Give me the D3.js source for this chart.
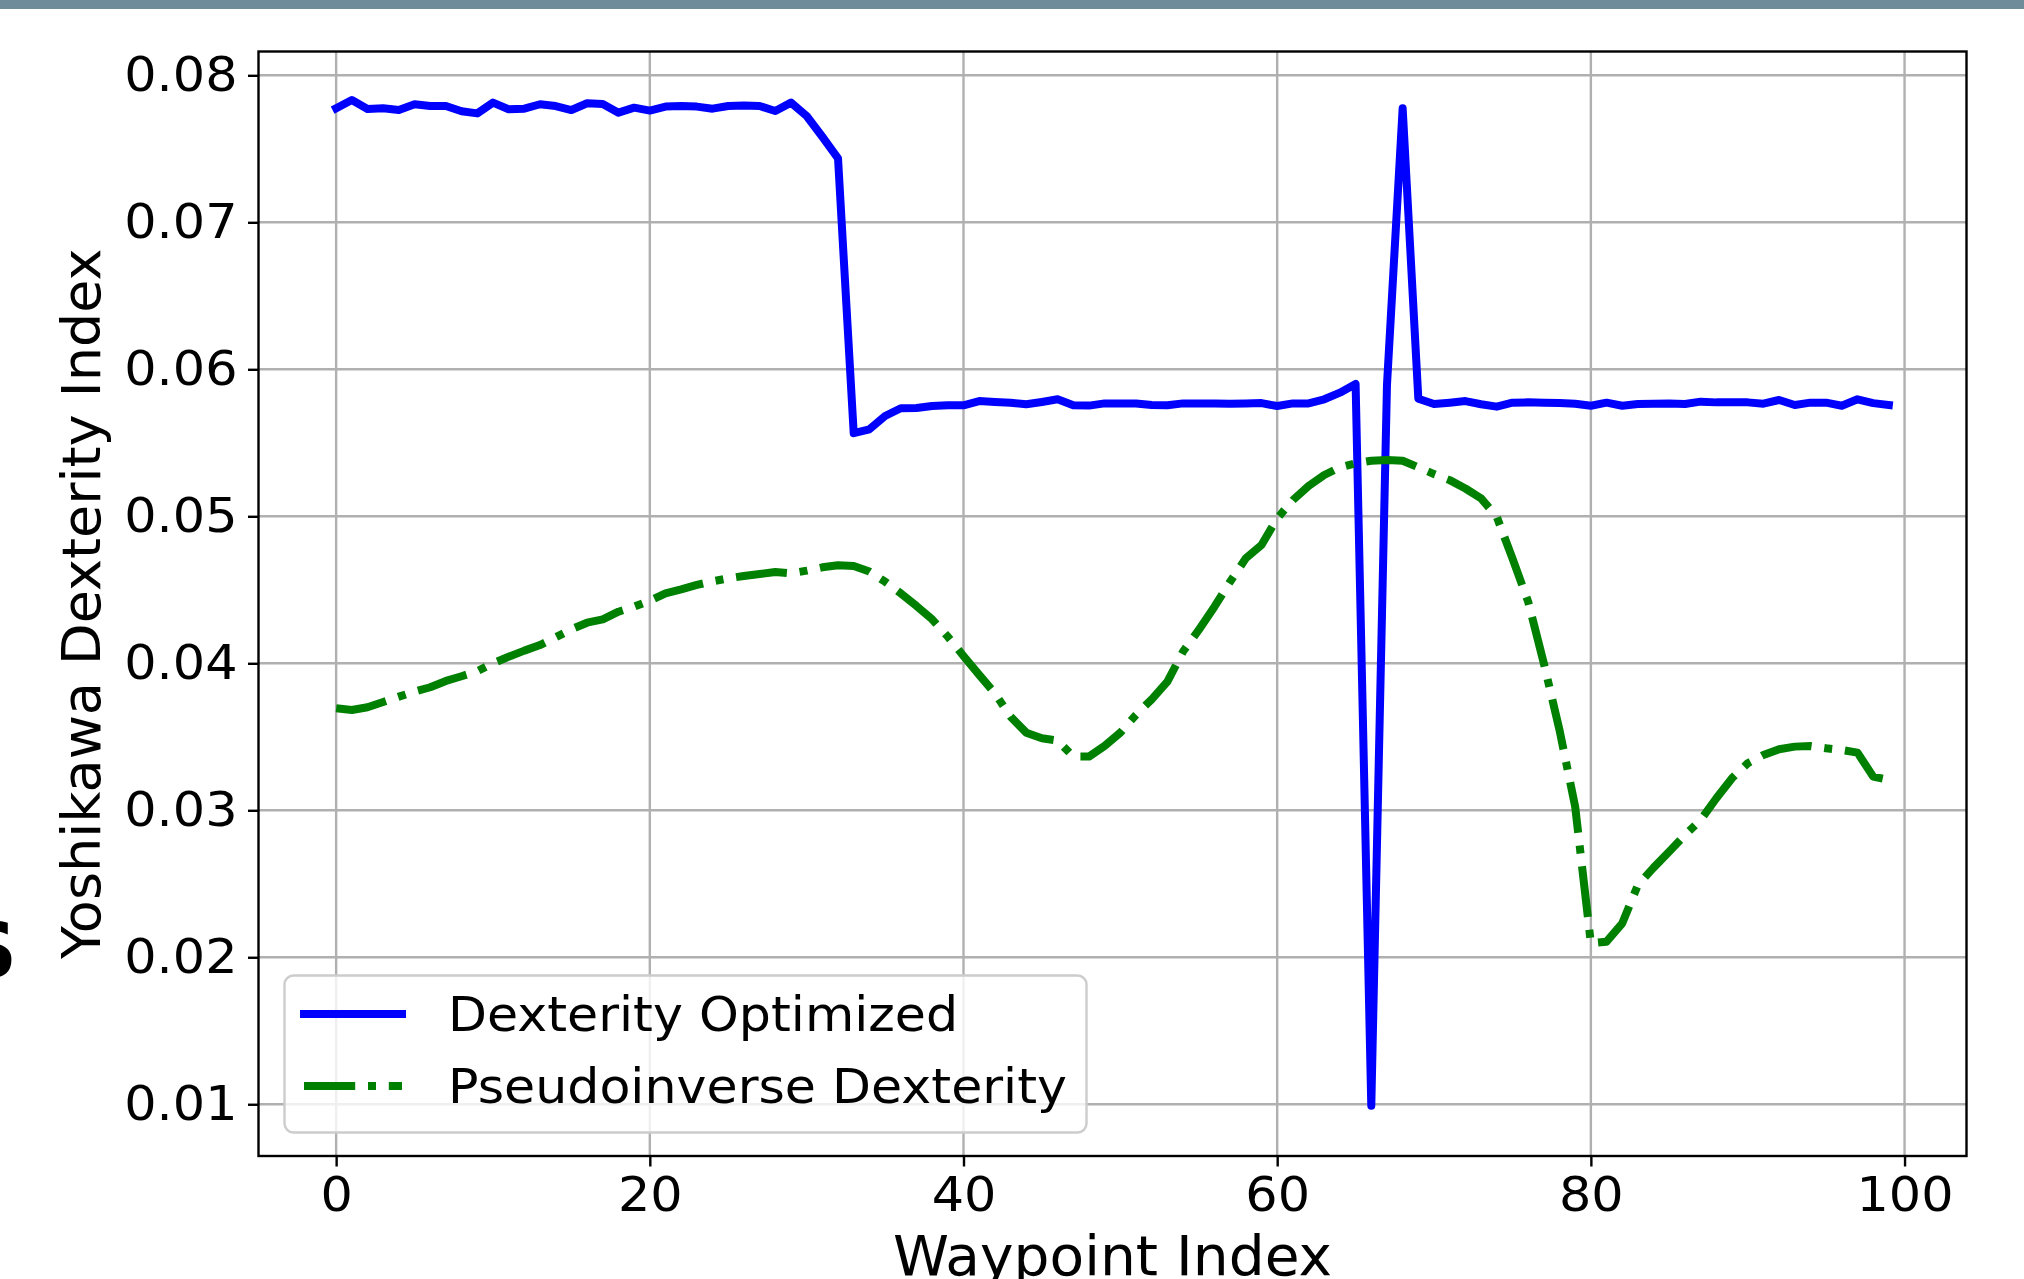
<!DOCTYPE html>
<html>
<head>
<meta charset="utf-8">
<script src="https://cdn.jsdelivr.net/npm/d3@7"></script>
<style>
  body { margin: 0; background: #fff; }
  svg { display: block; font-family: "DejaVu Sans", sans-serif; }
</style>
</head>
<body>
<div id="chart"></div>
<script>
// waypoint indices 0..99
var waypoints = d3.range(0, 100);

// Dexterity Optimized (blue, solid)
var dexOptimized = [
  0.07776, 0.07832, 0.07771, 0.07776, 0.07764, 0.07803, 0.07791, 0.07791, 0.07755, 0.07741,
  0.07814, 0.07769, 0.07773, 0.07803, 0.07791, 0.07764, 0.07810, 0.07805, 0.07746, 0.07780,
  0.07760, 0.07787, 0.07791, 0.07787, 0.07773, 0.07791, 0.07794, 0.07791, 0.07757, 0.07814,
  0.07723, 0.07582, 0.07435, 0.05565, 0.05592, 0.05682, 0.05735, 0.05737, 0.05750, 0.05755,
  0.05755, 0.05784, 0.05778, 0.05773, 0.05762, 0.05778, 0.05796, 0.05755, 0.05753, 0.05768,
  0.05768, 0.05768, 0.05757, 0.05755, 0.05768, 0.05768, 0.05768, 0.05766, 0.05768, 0.05770,
  0.05750, 0.05768, 0.05768, 0.05796, 0.05841, 0.05900, 0.00990, 0.05893, 0.07776, 0.05800,
  0.05764, 0.05773, 0.05784, 0.05762, 0.05746, 0.05773, 0.05775, 0.05773, 0.05771, 0.05766,
  0.05752, 0.05773, 0.05752, 0.05764, 0.05766, 0.05768, 0.05764, 0.05780, 0.05775, 0.05775,
  0.05775, 0.05766, 0.05791, 0.05757, 0.05773, 0.05773, 0.05752, 0.05796, 0.05770, 0.05757
];

// Pseudoinverse Dexterity (green, dash-dot)
var pseudoDex = [
  0.03694, 0.03682, 0.03701, 0.03737, 0.03773, 0.03807, 0.03837, 0.03880, 0.03912, 0.03946,
  0.04000, 0.04045, 0.04086, 0.04124, 0.04177, 0.04231, 0.04276, 0.04299, 0.04351, 0.04385,
  0.04426, 0.04476, 0.04503, 0.04533, 0.04558, 0.04578, 0.04594, 0.04607, 0.04621, 0.04612,
  0.04630, 0.04653, 0.04667, 0.04662, 0.04624, 0.04555, 0.04476, 0.04390, 0.04299, 0.04181,
  0.04050, 0.03921, 0.03796, 0.03637, 0.03528, 0.03490, 0.03474, 0.03365, 0.03365, 0.03438,
  0.03528, 0.03649, 0.03755, 0.03875, 0.04080, 0.04227, 0.04385, 0.04555, 0.04714, 0.04805,
  0.04986, 0.05110, 0.05206, 0.05281, 0.05333, 0.05361, 0.05378, 0.05383, 0.05378, 0.05333,
  0.05287, 0.05246, 0.05189, 0.05122, 0.04997, 0.04714, 0.04420, 0.04000, 0.03546, 0.03024,
  0.02095, 0.02106, 0.02231, 0.02492, 0.02610, 0.02720, 0.02832, 0.02934, 0.03082, 0.03218,
  0.03320, 0.03376, 0.03415, 0.03433, 0.03437, 0.03422, 0.03410, 0.03392, 0.03229, 0.03206
];

var xTicks = [0, 20, 40, 60, 80, 100];
var yTicks = [0.01, 0.02, 0.03, 0.04, 0.05, 0.06, 0.07, 0.08];
var seriesNames = ["Dexterity Optimized", "Pseudoinverse Dexterity"];
var seriesColors = ["#0000ff", "#008000"];

var W = 2024, H = 1279;
var plot = { left: 258.5, right: 1966.5, top: 51.5, bottom: 1156 };
var lw = 8;
var dashDot = [6.4 * lw, 1.6 * lw, lw, 1.6 * lw].join(",");

// the source is a little stretched sideways, so text gets a horizontal scale
function stretch(sx, ax, ay) {
    return "translate(" + ax + "," + ay + ") scale(" + sx + ",1) translate(" + (-ax) + "," + (-ay) + ")";
}

var svg = d3.select("#chart").append("svg")
    .attr("width", W)
    .attr("height", H);

// slide bits behind the figure
svg.append("rect")
    .attr("x", 0).attr("y", 0)
    .attr("width", W).attr("height", 9)
    .style("fill", "#6e8c99");

svg.append("text")
    .attr("x", 17)
    .attr("y", 977)
    .style("text-anchor", "end")
    .style("font-weight", "bold")
    .style("font-size", "76px")
    .text("S");

var x = d3.scaleLinear().domain([-4.95, 103.95]).range([plot.left, plot.right]);
var y = d3.scaleLinear().domain([0.00648, 0.08162]).range([plot.bottom, plot.top]);

// grid
var grid = svg.append("g").attr("class", "grid");
grid.selectAll("line.vx")
    .data(xTicks)
    .enter().append("line")
    .attr("x1", function (d) { return x(d); })
    .attr("x2", function (d) { return x(d); })
    .attr("y1", plot.top)
    .attr("y2", plot.bottom)
    .style("stroke", "#b0b0b0")
    .style("stroke-width", 2.4);
grid.selectAll("line.hy")
    .data(yTicks)
    .enter().append("line")
    .attr("x1", plot.left)
    .attr("x2", plot.right)
    .attr("y1", function (d) { return y(d); })
    .attr("y2", function (d) { return y(d); })
    .style("stroke", "#b0b0b0")
    .style("stroke-width", 2.4);

// lines
svg.append("clipPath").attr("id", "clip")
    .append("rect")
    .attr("x", plot.left).attr("y", plot.top)
    .attr("width", plot.right - plot.left)
    .attr("height", plot.bottom - plot.top);

var line = d3.line()
    .x(function (d, i) { return x(waypoints[i]); })
    .y(function (d) { return y(d); });

svg.append("path")
    .datum(dexOptimized)
    .attr("d", line)
    .attr("clip-path", "url(#clip)")
    .style("fill", "none")
    .style("stroke", seriesColors[0])
    .style("stroke-width", lw)
    .style("stroke-linejoin", "round")
    .style("stroke-linecap", "square");

svg.append("path")
    .datum(pseudoDex)
    .attr("d", line)
    .attr("clip-path", "url(#clip)")
    .style("fill", "none")
    .style("stroke", seriesColors[1])
    .style("stroke-width", lw)
    .style("stroke-dasharray", dashDot)
    .style("stroke-linejoin", "round")
    .style("stroke-linecap", "butt");

// axes
var xAxis = svg.append("g")
    .attr("transform", "translate(0," + plot.bottom + ")")
    .call(d3.axisBottom(x).tickValues(xTicks).tickFormat(d3.format("d"))
        .tickSize(10.5).tickPadding(10.5));
var yAxis = svg.append("g")
    .attr("transform", "translate(" + plot.left + ",0)")
    .call(d3.axisLeft(y).tickValues(yTicks).tickFormat(d3.format(".2f"))
        .tickSize(10.5).tickPadding(10.5));

[xAxis, yAxis].forEach(function (ax) {
    ax.select(".domain").remove();
    ax.selectAll(".tick line").style("stroke", "#000").style("stroke-width", 2.4);
    ax.selectAll(".tick text")
        .style("font-family", "DejaVu Sans")
        .style("font-size", "48px")
        .style("fill", "#000");
});
xAxis.selectAll(".tick text").attr("transform", "scale(1.06,1)");
yAxis.selectAll(".tick text").attr("transform", stretch(1.06, -21, 0));

svg.append("rect")
    .attr("x", plot.left).attr("y", plot.top)
    .attr("width", plot.right - plot.left)
    .attr("height", plot.bottom - plot.top)
    .style("fill", "none")
    .style("stroke", "#000")
    .style("stroke-width", 2.4);

// axis labels
var midX = (plot.left + plot.right) / 2;
svg.append("text")
    .attr("x", midX)
    .attr("y", 1275)
    .attr("transform", stretch(1.03, midX, 1275))
    .style("text-anchor", "middle")
    .style("font-size", "55px")
    .text("Waypoint Index");

svg.append("text")
    .attr("transform", "translate(100," + (plot.top + plot.bottom) / 2 + ") rotate(-90)")
    .style("text-anchor", "middle")
    .style("font-size", "54px")
    .text("Yoshikawa Dexterity Index");

// legend
var legend = svg.append("g");
legend.append("rect")
    .attr("x", 284.5).attr("y", 975.5)
    .attr("width", 802).attr("height", 157)
    .attr("rx", 9)
    .style("fill", "#fff")
    .style("fill-opacity", 0.8)
    .style("stroke", "#cccccc")
    .style("stroke-width", 2.4);

var items = legend.selectAll("g.item")
    .data(seriesNames)
    .enter().append("g")
    .attr("transform", function (d, i) { return "translate(0," + (i * 72) + ")"; });

items.append("line")
    .attr("x1", 304).attr("x2", 402)
    .attr("y1", 1014).attr("y2", 1014)
    .style("stroke", function (d, i) { return seriesColors[i]; })
    .style("stroke-width", lw)
    .style("stroke-dasharray", function (d, i) { return i === 1 ? dashDot : null; })
    .style("stroke-linecap", function (d, i) { return i === 0 ? "square" : "butt"; });

items.append("text")
    .attr("x", 448)
    .attr("y", 1031)
    .attr("transform", stretch(1.055, 448, 1031))
    .style("font-size", "48px")
    .text(function (d) { return d; });
</script>
</body>
</html>
